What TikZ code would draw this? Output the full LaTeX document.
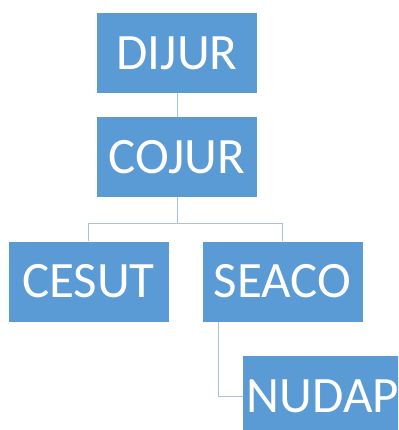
\documentclass[tikz,border=0pt]{standalone}
\usepackage{fontspec}
\setmainfont{Carlito}
\usetikzlibrary{calc}
\definecolor{boxblue}{HTML}{5B9BD5}
\definecolor{linkblue}{HTML}{A8C3E2}

\begin{document}
\begin{tikzpicture}[x=1pt, y=-1pt,
  orgbox/.style={fill=boxblue, text=white, minimum width=160pt, minimum height=80pt,
    inner sep=0pt, font=\fontsize{51}{51}\selectfont},
  link/.style={draw=linkblue, line width=1pt}]
\useasboundingbox (0,0) rectangle (398,430);
\clip (0,0) rectangle (398,430);
\node[orgbox] (dijur) at (177,53) {DIJUR};
\node[orgbox] (cojur) at (177,157) {COJUR};
\node[orgbox] (cesut) at (88.5,281.5) {CESUT};
\node[orgbox] (seaco) at (282.5,281.5) {SEACO};
\node[orgbox] (nudap) at (323,396) {NUDAP};
\draw[link] (dijur) -- (cojur);
\draw[link] (cojur.south) -- ++(0,26) -| (cesut.north);
\draw[link] (cojur.south) -- ++(0,26) -| (seaco.north);
\draw[link] ([xshift=-64.5pt]seaco.south) |- (nudap.west);
\end{tikzpicture}
\end{document}
